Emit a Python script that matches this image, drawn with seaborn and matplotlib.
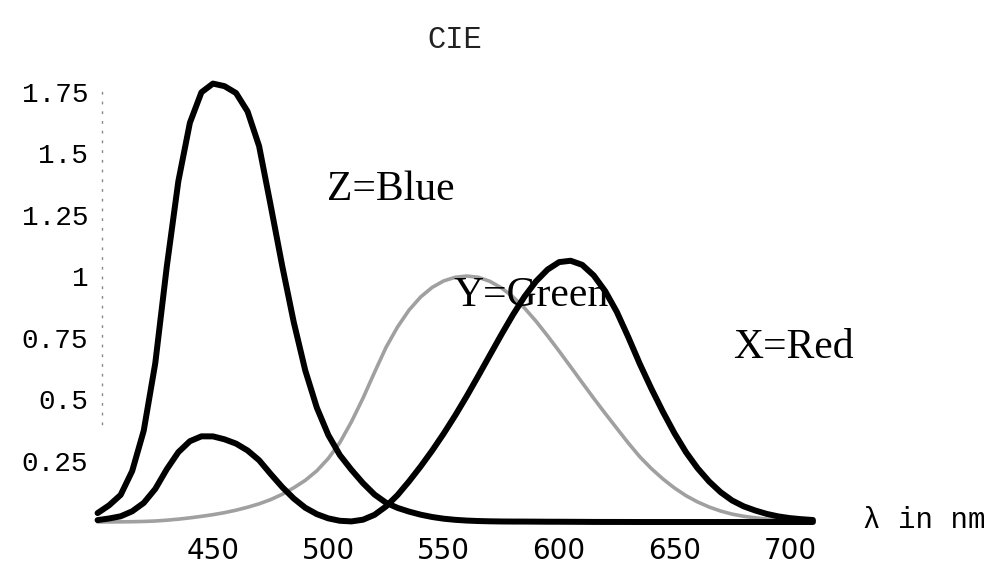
import matplotlib
matplotlib.use("Agg")
import matplotlib.pyplot as plt
import seaborn as sns

# ---- data ----
wavelengths = [400, 405, 410, 415, 420, 425, 430, 435, 440, 445, 450, 455, 460, 465, 470,
               475, 480, 485, 490, 495, 500, 505, 510, 515, 520, 525, 530, 535, 540, 545,
               550, 555, 560, 565, 570, 575, 580, 585, 590, 595, 600, 605, 610, 615, 620,
               625, 630, 635, 640, 645, 650, 655, 660, 665, 670, 675, 680, 685, 690, 695,
               700, 705, 710]

x_red = [0.0077, 0.0143, 0.0232, 0.0435, 0.0776, 0.1344, 0.2148, 0.2839, 0.3285, 0.3483,
         0.3481, 0.3362, 0.3187, 0.2908, 0.2511, 0.1954, 0.1421, 0.0956, 0.0580, 0.0320,
         0.0147, 0.0049, 0.0024, 0.0093, 0.0291, 0.0633, 0.1096, 0.1655, 0.2258, 0.2904,
         0.3597, 0.4335, 0.5121, 0.5945, 0.6784, 0.7621, 0.8425, 0.9163, 0.9786, 1.0263,
         1.0567, 1.0622, 1.0456, 1.0026, 0.9384, 0.8545, 0.7514, 0.6424, 0.5419, 0.4479,
         0.3608, 0.2835, 0.2187, 0.1649, 0.1212, 0.0874, 0.0636, 0.0468, 0.0329, 0.0227,
         0.0158, 0.0114, 0.0081]

y_green = [0.0002, 0.0004, 0.0006, 0.0012, 0.0022, 0.0040, 0.0073, 0.0116, 0.0168, 0.0230,
           0.0298, 0.0380, 0.0480, 0.0600, 0.0739, 0.0910, 0.1126, 0.1390, 0.1693, 0.2080,
           0.2586, 0.3230, 0.4073, 0.5030, 0.6082, 0.7100, 0.7932, 0.8620, 0.9149, 0.9540,
           0.9803, 0.9950, 1.0000, 0.9950, 0.9786, 0.9520, 0.9154, 0.8700, 0.8163, 0.7570,
           0.6949, 0.6310, 0.5668, 0.5030, 0.4412, 0.3810, 0.3210, 0.2650, 0.2170, 0.1750,
           0.1382, 0.1070, 0.0816, 0.0610, 0.0446, 0.0320, 0.0232, 0.0170, 0.0119, 0.0082,
           0.0057, 0.0041, 0.0029]

z_blue = [0.0362, 0.0679, 0.1102, 0.2074, 0.3713, 0.6456, 1.0391, 1.3856, 1.6230, 1.7471,
          1.7826, 1.7721, 1.7441, 1.6692, 1.5281, 1.2876, 1.0419, 0.8130, 0.6162, 0.4652,
          0.3533, 0.2720, 0.2123, 0.1582, 0.1117, 0.0783, 0.0573, 0.0422, 0.0298, 0.0203,
          0.0134, 0.0088, 0.0058, 0.0039, 0.0028, 0.0021, 0.0018, 0.0017, 0.0014, 0.0011,
          0.0010, 0.0008, 0.0006, 0.0003, 0.0002, 0.0002, 0.0001, 0.0, 0.0, 0.0,
          0.0, 0.0, 0.0, 0.0, 0.0, 0.0, 0.0, 0.0, 0.0, 0.0,
          0.0, 0.0, 0.0]

x_ticks = [450, 500, 550, 600, 650, 700]
y_ticks = [0.25, 0.5, 0.75, 1, 1.25, 1.5, 1.75]
y_tick_labels = ["0.25", "0.5", "0.75", "1", "1.25", "1.5", "1.75"]

title = "CIE"
label_z = "Z=Blue"
label_y = "Y=Green"
label_x = "X=Red"
x_unit = "λ in nm"

# ---- drawing ----
sns.set_theme(style="white")
plt.rcParams["font.family"] = ["Liberation Mono", "DejaVu Sans"]

W, H = 1003, 567
fig = plt.figure(figsize=(W / 100, H / 100), dpi=100)
L, R, B, T = 102.2, 836.0, 522.0, 67.0
ax = fig.add_axes([L / W, (H - B) / H, (R - L) / W, (B - T) / H])

sns.lineplot(x=wavelengths, y=y_green, ax=ax, color="#a0a0a0", lw=2.6, clip_on=False)
sns.lineplot(x=wavelengths, y=z_blue, ax=ax, color="black", lw=4.3, clip_on=False)
sns.lineplot(x=wavelengths, y=x_red, ax=ax, color="black", lw=4.3, clip_on=False)

ax.set_xlim(402, 720)
ax.set_ylim(0, 1.85)
ax.set_xticks(x_ticks)
ax.set_xticklabels([str(t) for t in x_ticks], family="Liberation Sans Narrow", fontsize=20)
ax.set_yticks(y_ticks)
ax.set_yticklabels(y_tick_labels, family="Liberation Mono", fontsize=20)
ax.tick_params(axis="both", length=0, colors="black")
ax.tick_params(axis="y", pad=10)
ax.tick_params(axis="x", pad=11)
ax.set_xlabel("")
ax.set_ylabel("")

for s in ["top", "right", "bottom"]:
    ax.spines[s].set_visible(False)
ax.spines["left"].set_linestyle((0, (1, 6)))
ax.spines["left"].set_color("#888888")
ax.spines["left"].set_linewidth(1.0)
ax.spines["left"].set_bounds(0.4, 1.75)
ax.grid(False)

fig.text(455 / W, 1 - 40 / H, title, ha="center", va="center",
         family="Liberation Mono", fontsize=22, color="#222222")
fig.text(327 / W, 1 - 190 / H, label_z, ha="left", va="center",
         family="Liberation Serif", fontsize=30, color="black")
fig.text(454 / W, 1 - 296 / H, label_y, ha="left", va="center",
         family="Liberation Serif", fontsize=30, color="black")
fig.text(733 / W, 1 - 348 / H, label_x, ha="left", va="center",
         family="Liberation Serif", fontsize=30, color="black")
fig.text(863 / W, 1 - 520 / H, x_unit, ha="left", va="center",
         family=["Liberation Mono", "DejaVu Sans"], fontsize=21, color="black")

fig.savefig("out.png", dpi=100)
